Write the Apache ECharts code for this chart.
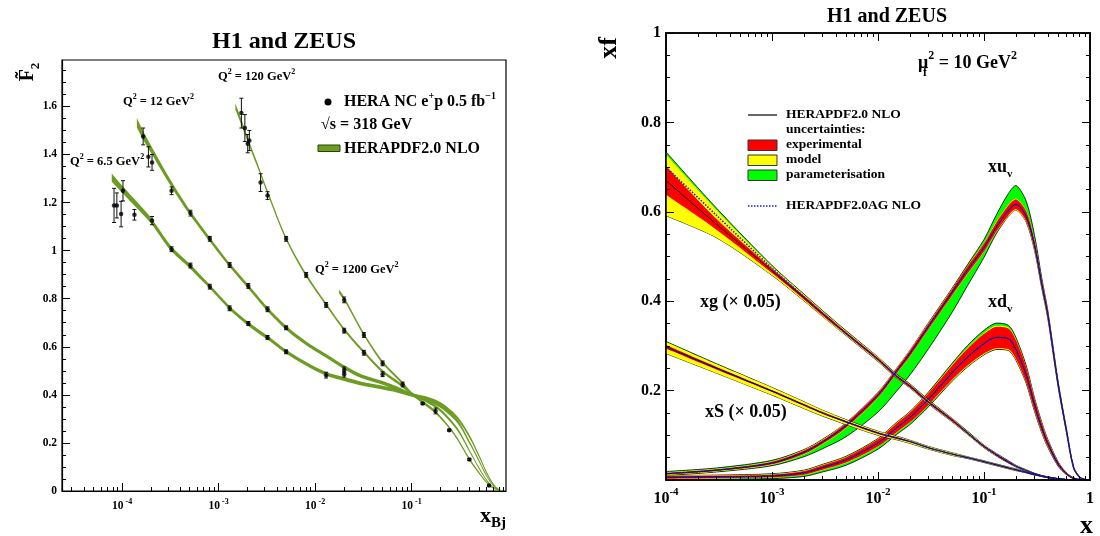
<!DOCTYPE html>
<html><head><meta charset="utf-8">
<script src="https://cdn.jsdelivr.net/npm/echarts@6/dist/echarts.min.js"></script>
<style>html,body{margin:0;padding:0;background:#fff}#c{width:1100px;height:536px}</style>
</head><body><div id="c"></div>
<script>
// ================= LEFT PANEL DATA (reduced cross section F2~ vs x_Bj) =================
// HERAPDF2.0 NLO prediction bands: x, central value, half width
const c65X  = [7.8e-5,1e-4,1.5e-4,2e-4,3.2e-4,5e-4,8e-4,1.3e-3,2e-3,3.2e-3,5e-3,8e-3,0.013,0.02,0.03,0.05,0.07,0.1,0.14,0.2,0.3,0.4,0.5,0.6,0.7,0.8,0.9];
const c65F  = [1.304,1.256,1.18,1.124,1.01,0.936,0.852,0.762,0.697,0.638,0.58,0.53,0.487,0.466,0.447,0.43,0.418,0.40,0.387,0.362,0.302,0.225,0.145,0.075,0.028,0.005,0.0];
const c65W  = [0.017,0.015,0.013,0.012,0.010,0.009,0.008,0.008,0.008,0.008,0.008,0.008,0.008,0.008,0.008,0.008,0.008,0.007,0.007,0.007,0.007,0.007,0.006,0.005,0.004,0.003,0.002];
const c12X  = [1.42e-4,1.6e-4,2e-4,3.2e-4,5e-4,8e-4,1.3e-3,2e-3,3.2e-3,5e-3,8e-3,0.013,0.02,0.03,0.05,0.07,0.1,0.14,0.2,0.3,0.4,0.5,0.6,0.7,0.8,0.9];
const c12F  = [1.532,1.49,1.42,1.28,1.16,1.049,0.94,0.853,0.757,0.679,0.615,0.562,0.515,0.478,0.45,0.428,0.40,0.382,0.352,0.288,0.2,0.125,0.062,0.023,0.004,0.0];
const c12W  = [0.020,0.018,0.015,0.012,0.010,0.009,0.008,0.008,0.008,0.008,0.008,0.008,0.008,0.008,0.008,0.008,0.007,0.007,0.007,0.007,0.006,0.005,0.004,0.003,0.002,0.002];
const c120X = [1.49e-3,1.7e-3,2e-3,2.5e-3,3.2e-3,5e-3,8e-3,0.013,0.02,0.032,0.05,0.08,0.1,0.14,0.2,0.3,0.4,0.5,0.6,0.7,0.8,0.9];
const c120F = [1.60,1.54,1.462,1.36,1.245,1.05,0.90,0.776,0.672,0.578,0.497,0.438,0.405,0.376,0.335,0.255,0.165,0.095,0.045,0.016,0.003,0.0];
const c120W = [0.013,0.012,0.010,0.009,0.008,0.007,0.007,0.006,0.006,0.006,0.006,0.006,0.006,0.006,0.006,0.006,0.005,0.004,0.003,0.002,0.002,0.002];
const c1200X = [0.0177,0.02,0.032,0.05,0.08,0.1,0.13,0.18,0.25,0.3,0.4,0.5,0.6,0.65,0.7,0.8,0.9];
const c1200F = [0.83,0.80,0.652,0.535,0.45,0.405,0.37,0.325,0.26,0.215,0.13,0.075,0.035,0.022,0.012,0.002,0.0];
const c1200W = [0.008,0.007,0.006,0.006,0.006,0.006,0.006,0.006,0.005,0.005,0.005,0.004,0.003,0.003,0.002,0.002,0.002];
// HERA NC e+p data points: x, value, error
const d65X = [8.24e-5,8.81e-5,9.75e-5,1.02e-4,1.34e-4,2.04e-4,3.25e-4,5.1e-4,8.1e-4,1.3e-3,2.03e-3,3.21e-3,5.0e-3,0.013,0.02];
const d65F = [1.188,1.188,1.152,1.249,1.149,1.125,1.006,0.938,0.850,0.760,0.697,0.639,0.579,0.482,0.486];
const d65E = [0.071,0.052,0.053,0.042,0.022,0.017,0.010,0.010,0.010,0.010,0.008,0.008,0.008,0.012,0.012];
const d12X = [1.65e-4,1.87e-4,2.04e-4,3.25e-4,5.1e-4,8.1e-4,1.3e-3,2.03e-3,3.21e-3,5.0e-3,0.02];
const d12F = [1.475,1.39,1.367,1.249,1.156,1.049,0.940,0.853,0.756,0.679,0.504];
const d12E = [0.035,0.042,0.033,0.016,0.012,0.010,0.010,0.010,0.010,0.008,0.012];
const d120X = [1.72e-3,1.87e-3,2.0e-3,2.08e-3,2.72e-3,3.21e-3,5.0e-3,8.07e-3,0.013,0.02,0.032,0.05];
const d120F = [1.572,1.510,1.445,1.458,1.283,1.229,1.049,0.899,0.774,0.667,0.575,0.486];
const d120E = [0.062,0.056,0.038,0.042,0.037,0.016,0.010,0.010,0.010,0.010,0.010,0.010];
const d1200X = [0.02,0.032,0.05,0.0807,0.13,0.177,0.245,0.396,0.634];
const d1200F = [0.795,0.649,0.531,0.443,0.364,0.333,0.253,0.131,0.0225];
const d1200E = [0.012,0.010,0.010,0.010,0.004,0.012,0.004,0.004,0.003];

// ================= RIGHT PANEL DATA (PDFs at mu_f^2 = 10 GeV^2) =================
const xGrid = [1e-4,3e-4,1e-3,2e-3,3e-3,5e-3,0.01,0.015,0.02,0.03,0.05,0.07,0.1,0.13,0.17,0.2,0.25,0.3,0.35,0.4,0.5,0.6,0.7,0.8,0.9,1.0];
// xu_v
const xuv      = [0.014,0.022,0.038,0.062,0.085,0.122,0.19,0.244,0.283,0.344,0.42,0.47,0.52,0.565,0.603,0.617,0.59,0.525,0.44,0.37,0.215,0.11,0.028,0.006,0.001,0];
const xuvExp   = [0.002,0.002,0.003,0.004,0.004,0.005,0.005,0.005,0.006,0.006,0.007,0.008,0.009,0.010,0.011,0.011,0.011,0.010,0.009,0.008,0.006,0.004,0.002,0.001,0,0];
const xuvModUp = [0.003,0.003,0.004,0.005,0.005,0.006,0.006,0.006,0.007,0.007,0.008,0.009,0.010,0.012,0.013,0.013,0.013,0.012,0.010,0.009,0.006,0.004,0.002,0.001,0,0];
const xuvModDn = [0.003,0.003,0.004,0.005,0.005,0.006,0.006,0.006,0.007,0.007,0.008,0.009,0.010,0.012,0.013,0.013,0.013,0.012,0.010,0.009,0.006,0.004,0.002,0.001,0,0];
const xuvTotUp = [0.005,0.005,0.006,0.006,0.006,0.006,0.006,0.006,0.007,0.008,0.009,0.012,0.018,0.027,0.038,0.042,0.034,0.022,0.013,0.009,0.006,0.004,0.002,0.001,0,0];
const xuvTotDn = [0.004,0.004,0.006,0.010,0.015,0.025,0.038,0.045,0.048,0.050,0.045,0.035,0.022,0.015,0.013,0.013,0.013,0.012,0.010,0.009,0.006,0.004,0.002,0.001,0,0];
// xd_v
const xdv      = [0.006,0.007,0.009,0.016,0.028,0.045,0.083,0.117,0.14,0.181,0.24,0.275,0.305,0.319,0.316,0.292,0.235,0.168,0.118,0.082,0.036,0.014,0.004,0.001,0,0];
const xdvExp   = [0.003,0.003,0.003,0.004,0.005,0.006,0.008,0.010,0.011,0.013,0.016,0.019,0.022,0.024,0.023,0.021,0.017,0.013,0.010,0.007,0.004,0.002,0.001,0,0,0];
const xdvModUp = [0.004,0.004,0.004,0.005,0.006,0.007,0.009,0.011,0.012,0.014,0.018,0.021,0.024,0.026,0.025,0.023,0.018,0.014,0.011,0.008,0.004,0.002,0.001,0,0,0];
const xdvModDn = [0.004,0.004,0.004,0.005,0.006,0.007,0.009,0.011,0.012,0.014,0.018,0.021,0.024,0.026,0.025,0.023,0.018,0.014,0.011,0.008,0.004,0.002,0.001,0,0,0];
const xdvTotUp = [0.004,0.004,0.005,0.006,0.007,0.008,0.010,0.012,0.013,0.016,0.021,0.026,0.030,0.032,0.030,0.027,0.021,0.015,0.012,0.009,0.005,0.002,0.001,0,0,0];
const xdvTotDn = [0.005,0.005,0.006,0.008,0.010,0.012,0.014,0.015,0.016,0.017,0.019,0.022,0.025,0.027,0.026,0.024,0.019,0.015,0.012,0.009,0.005,0.002,0.001,0,0,0];
// xg (x 0.05)
const xg      = [0.670,0.572,0.468,0.408,0.372,0.328,0.270,0.232,0.210,0.174,0.134,0.105,0.075,0.057,0.040,0.031,0.021,0.014,0.009,0.006,0.002,0.001,0,0,0,0];
const xgAG    = [0.700,0.592,0.474,0.410,0.373,0.328,0.270,0.232,0.210,0.174,0.134,0.105,0.075,0.057,0.040,0.031,0.021,0.014,0.009,0.006,0.002,0.001,0,0,0,0];
const xgExp   = [0.032,0.012,0.005,0.004,0.004,0.003,0.003,0.003,0.003,0.003,0.003,0.002,0.002,0.002,0.002,0.001,0.001,0.001,0.001,0.001,0,0,0,0,0,0];
const xgModUp = [0.058,0.032,0.010,0.007,0.006,0.005,0.005,0.004,0.004,0.004,0.004,0.003,0.003,0.003,0.002,0.002,0.002,0.001,0.001,0.001,0.001,0,0,0,0,0];
const xgModDn = [0.079,0.030,0.010,0.007,0.006,0.005,0.005,0.004,0.004,0.004,0.004,0.003,0.003,0.003,0.002,0.002,0.002,0.001,0.001,0.001,0.001,0,0,0,0,0];
const xgTotUp = [0.064,0.036,0.012,0.008,0.007,0.006,0.005,0.005,0.005,0.005,0.004,0.004,0.003,0.003,0.003,0.002,0.002,0.001,0.001,0.001,0.001,0,0,0,0,0];
const xgTotDn = [0.079,0.030,0.010,0.007,0.006,0.005,0.005,0.004,0.004,0.004,0.004,0.003,0.003,0.003,0.002,0.002,0.002,0.001,0.001,0.001,0.001,0,0,0,0,0];
// xS (x 0.05)
const xS      = [0.298,0.250,0.199,0.168,0.150,0.130,0.105,0.094,0.086,0.072,0.058,0.050,0.041,0.034,0.027,0.023,0.017,0.012,0.009,0.006,0.003,0.001,0,0,0,0];
const xSExp   = [0.004,0.003,0.002,0.002,0.002,0.002,0.002,0.002,0.001,0.001,0.001,0.001,0.001,0.001,0.001,0.001,0.001,0.001,0,0,0,0,0,0,0,0];
const xSModUp = [0.011,0.009,0.008,0.007,0.006,0.005,0.004,0.004,0.003,0.003,0.003,0.002,0.002,0.002,0.002,0.002,0.001,0.001,0.001,0.001,0,0,0,0,0,0];
const xSModDn = [0.015,0.011,0.009,0.008,0.007,0.006,0.005,0.004,0.004,0.003,0.003,0.002,0.002,0.002,0.002,0.002,0.001,0.001,0.001,0.001,0,0,0,0,0,0];
const xSTotUp = [0.012,0.010,0.008,0.007,0.006,0.005,0.004,0.004,0.003,0.003,0.003,0.002,0.002,0.002,0.002,0.002,0.001,0.001,0.001,0.001,0,0,0,0,0,0];
const xSTotDn = [0.015,0.011,0.009,0.008,0.007,0.006,0.005,0.004,0.004,0.003,0.003,0.002,0.002,0.002,0.002,0.002,0.001,0.001,0.001,0.001,0,0,0,0,0,0];

// ================= tick values =================
const lxMajor = [1e-4,1e-3,1e-2,1e-1];
const rxMajor = [1e-4,1e-3,1e-2,1e-1,1];
const decades = [1e-5,1e-4,1e-3,1e-2,1e-1];
const minorMult = [2,3,4,5,6,7,8,9];
const lyMajor = [0,0.2,0.4,0.6,0.8,1.0,1.2,1.4,1.6];
const ryMajor = [0,0.2,0.4,0.6,0.8,1.0];
const ryLabels = [0.2,0.4,0.6,0.8,1.0];

// ================= building =================
const FONT = '"Liberation Serif","Times New Roman",serif';
const L_XMIN = 2.38e-5, L_XMAX = 0.95, L_YMAX = 1.793;
const GREEN_L = '#6c9c22';
const SM = 0.3;

function minorsIn(lo, hi) {
  const out = [];
  decades.forEach(d => minorMult.forEach(m => { const v = m * d; if (v > lo && v < hi) out.push(v); }));
  return out;
}
function yMinors(maxv) { const out = []; for (let k = 1; k * 0.05 < maxv; k++) out.push(+(k * 0.05).toFixed(2)); return out; }

const rich = (base, sup) => ({
  b: {fontFamily: FONT, fontWeight: 'bold', fontSize: base, lineHeight: Math.round(base * 1.25), verticalAlign: 'bottom', color: '#000'},
  s: {fontFamily: FONT, fontWeight: 'bold', fontSize: sup, lineHeight: sup, verticalAlign: 'top', color: '#000'}
});

function xAx(grid, min, max, pos, ticks, len, labels, fmt, richSt, showLine, lw) {
  return {
    type: 'log', logBase: 10, gridIndex: grid, min, max, position: pos, z: 10,
    axisLine: {show: showLine, onZero: false, lineStyle: {color: '#000', width: lw}},
    axisTick: {show: true, inside: true, length: len, customValues: ticks, lineStyle: {color: '#000', width: 1}},
    axisLabel: labels ? {show: true, customValues: labels, formatter: fmt, rich: richSt, margin: 7,
                         showMinLabel: true, showMaxLabel: true, hideOverlap: false} : {show: false},
    splitLine: {show: false}, minorTick: {show: false}
  };
}
function yAx(grid, min, max, pos, ticks, len, labels, size, showLine, lw) {
  return {
    type: 'value', gridIndex: grid, min, max, position: pos, z: 10,
    axisLine: {show: showLine, onZero: false, lineStyle: {color: '#000', width: lw}},
    axisTick: {show: true, inside: true, length: len, customValues: ticks, lineStyle: {color: '#000', width: 1}},
    axisLabel: labels ? {show: true, customValues: labels, margin: 5,
                         formatter: v => String(Math.round(v * 10) / 10),
                         fontFamily: FONT, fontWeight: 'bold', fontSize: size, color: '#000'} : {show: false},
    splitLine: {show: false}, minorTick: {show: false}
  };
}
const lxFmt = v => '{b|10}{s| ' + Math.round(Math.log10(v)) + '}';
const rxFmt = v => { const e = Math.round(Math.log10(v)); return e === 0 ? '{b|1}' : '{b|10}{s|' + e + '}'; };

const xAxis = [
  xAx(0, L_XMIN, L_XMAX, 'bottom', lxMajor, 8, lxMajor, lxFmt, rich(11.5, 8), true, 1.2),
  xAx(0, L_XMIN, L_XMAX, 'bottom', minorsIn(L_XMIN, L_XMAX), 4, null, null, null, false, 1),
  xAx(1, 1e-4, 1, 'bottom', rxMajor, 8, rxMajor, rxFmt, rich(16, 11), true, 1.6),
  xAx(1, 1e-4, 1, 'bottom', minorsIn(1e-4, 1), 4, null, null, null, false, 1),
  xAx(1, 1e-4, 1, 'top', rxMajor, 8, null, null, null, true, 1.6),
  xAx(1, 1e-4, 1, 'top', minorsIn(1e-4, 1), 4, null, null, null, false, 1)
];
const yAxis = [
  yAx(0, 0, L_YMAX, 'left', lyMajor, 8, lyMajor, 11.5, true, 1.2),
  yAx(0, 0, L_YMAX, 'left', yMinors(L_YMAX), 4, null, 0, false, 1),
  yAx(1, 0, 1, 'left', ryMajor, 8, ryLabels, 16, true, 1.6),
  yAx(1, 0, 1, 'left', yMinors(1), 4, null, 0, false, 1),
  yAx(1, 0, 1, 'right', ryMajor, 8, null, 0, true, 1.6),
  yAx(1, 0, 1, 'right', yMinors(1), 4, null, 0, false, 1)
];

// smooth path through screen points, same control-point rule as the line series smoothing
function smoothSeg(P, first) {
  const n = P.length; let d = first ? 'M' + P[0][0] + ' ' + P[0][1] : 'L' + P[0][0] + ' ' + P[0][1];
  let cp0 = P[0];
  for (let i = 1; i < n; i++) {
    const p = P[i], prev = P[i - 1];
    let cp1, nextCp;
    if (i === n - 1) { cp1 = p; nextCp = p; }
    else {
      const nx = P[i + 1];
      const vx = nx[0] - prev[0], vy = nx[1] - prev[1];
      const l0 = Math.hypot(p[0] - prev[0], p[1] - prev[1]), l1 = Math.hypot(nx[0] - p[0], nx[1] - p[1]);
      const r = (l0 + l1) > 0 ? l1 / (l0 + l1) : 0.5;
      cp1 = [p[0] - vx * SM * (1 - r), p[1] - vy * SM * (1 - r)];
      nextCp = [p[0] + vx * SM * r, p[1] + vy * SM * r];
      const cl = (v, a, b) => Math.min(Math.max(v, Math.min(a, b)), Math.max(a, b));
      cp1 = [cl(cp1[0], prev[0], p[0]), cl(cp1[1], prev[1], p[1])];
      nextCp = [cl(nextCp[0], p[0], nx[0]), cl(nextCp[1], p[1], nx[1])];
    }
    d += 'C' + cp0[0] + ' ' + cp0[1] + ' ' + cp1[0] + ' ' + cp1[1] + ' ' + p[0] + ' ' + p[1];
    cp0 = nextCp;
  }
  return d;
}
function band(X, lo, hi, color, xi, yi, outline) {
  return {
    type: 'custom', xAxisIndex: xi, yAxisIndex: yi, clip: true, silent: true, z: 2,
    data: X.map((x, i) => [x, lo[i], hi[i]]), encode: {x: 0, y: [1, 2]},
    renderItem: (params, api) => {
      if (params.dataIndex !== 0) return null;
      const up = X.map((x, i) => api.coord([x, hi[i]]));
      const dn = X.map((x, i) => api.coord([x, lo[i]])).reverse();
      const children = [{type: 'path', shape: {pathData: smoothSeg(up, true) + smoothSeg(dn, false) + 'Z'},
        style: {fill: color, stroke: null}}];
      if (outline) {
        children.push({type: 'path', shape: {pathData: smoothSeg(up, true)}, style: {fill: null, stroke: '#000', lineWidth: 0.8}});
        children.push({type: 'path', shape: {pathData: smoothSeg(dn, true)}, style: {fill: null, stroke: '#000', lineWidth: 0.8}});
      }
      return {type: 'group', children};
    }
  };
}
function curve(X, Y, color, width, type, xi, yi) {
  return {type: 'line', xAxisIndex: xi, yAxisIndex: yi, data: X.map((x, i) => [x, Y[i]]), symbol: 'none',
    smooth: SM, silent: true, z: 2, animation: false, lineStyle: {color, width, type}};
}

const series = [];
// ---- left bands
[[c65X, c65F, c65W], [c12X, c12F, c12W], [c120X, c120F, c120W], [c1200X, c1200F, c1200W]].forEach(([X, F, W]) => {
  series.push(band(X, F.map((f, i) => f - W[i]), F.map((f, i) => f + W[i]), GREEN_L, 0, 0, false));
});
// ---- left data points with error bars
const pts = [];
[[d65X, d65F, d65E], [d12X, d12F, d12E], [d120X, d120F, d120E], [d1200X, d1200F, d1200E]].forEach(([X, F, E]) => {
  X.forEach((x, i) => pts.push([x, F[i], E[i]]));
});
series.push({
  type: 'custom', xAxisIndex: 0, yAxisIndex: 0, data: pts, encode: {x: 0, y: 1}, z: 5, silent: true,
  renderItem: (params, api) => {
    const x = api.value(0), y = api.value(1), e = api.value(2);
    const t = api.coord([x, y + e]), b = api.coord([x, y - e]);
    const st = {stroke: '#111', lineWidth: 1};
    return {type: 'group', children: [
      {type: 'line', shape: {x1: t[0], y1: t[1], x2: b[0], y2: b[1]}, style: st},
      {type: 'line', shape: {x1: t[0] - 2, y1: t[1], x2: t[0] + 2, y2: t[1]}, style: st},
      {type: 'line', shape: {x1: b[0] - 2, y1: b[1], x2: b[0] + 2, y2: b[1]}, style: st}
    ]};
  }
});
series.push({type: 'scatter', xAxisIndex: 0, yAxisIndex: 0, data: pts.map(p => [p[0], p[1]]),
  symbol: 'circle', symbolSize: 4.5, itemStyle: {color: '#000'}, z: 6, silent: true});

// ---- right PDFs
const pdfs = [
  {c: xuv, e: xuvExp, mu: xuvModUp, md: xuvModDn, tu: xuvTotUp, td: xuvTotDn, ag: xuv},
  {c: xdv, e: xdvExp, mu: xdvModUp, md: xdvModDn, tu: xdvTotUp, td: xdvTotDn, ag: xdv},
  {c: xg,  e: xgExp,  mu: xgModUp,  md: xgModDn,  tu: xgTotUp,  td: xgTotDn,  ag: xgAG},
  {c: xS,  e: xSExp,  mu: xSModUp,  md: xSModDn,  tu: xSTotUp,  td: xSTotDn,  ag: xS}
];
pdfs.forEach(p => {
  const off = (b, s) => p.c.map((v, i) => v + s * b[i]);
  series.push(band(xGrid, off(p.td, -1), off(p.tu, 1), '#00ff00', 2, 2, true));
  series.push(band(xGrid, off(p.md, -1), off(p.mu, 1), '#ffff00', 2, 2, false));
  series.push(band(xGrid, off(p.e, -1), off(p.e, 1), '#ff0000', 2, 2, false));
  series.push(curve(xGrid, p.c, '#000', 1, 'solid', 2, 2));
  series.push(curve(xGrid, p.ag, '#1a1aff', 1.6, [1.5, 1.5], 2, 2));
});

// ---- text / legend decorations
function T(x, y, text, size, o) {
  o = o || {};
  const al = o.align || 'left';
  return {type: 'text', x, y, rotation: o.rot || 0, z: 100, silent: true,
    style: {text, fill: '#000', fontFamily: FONT, fontWeight: 'bold', fontSize: size,
      lineHeight: o.lh || Math.round(size * 1.25),
      align: al, textAlign: al, verticalAlign: 'middle', textVerticalAlign: 'middle',
      rich: o.rich}};
}
const supR = (base, sup) => ({
  s: {fontFamily: FONT, fontWeight: 'bold', fontSize: sup, lineHeight: sup, verticalAlign: 'top', fill: '#000'},
  u: {fontFamily: FONT, fontWeight: 'bold', fontSize: sup, lineHeight: sup, verticalAlign: 'bottom', fill: '#000'}
});
const graphics = [
  // left panel
  T(284, 42, 'H1 and ZEUS', 24, {align: 'center'}),
  T(28, 72, 'F\u0303{u|2}', 20, {align: 'center', rot: Math.PI / 2, lh: 28, rich: supR(20, 13)}),
  T(506, 516, 'x{u|Bj}', 22, {align: 'right', lh: 30, rich: supR(22, 15)}),
  T(70, 162, 'Q{s|2} = 6.5 GeV{s|2}', 12.5, {lh: 18, rich: supR(12.5, 8)}),
  T(123, 102, 'Q{s|2} = 12 GeV{s|2}', 12.5, {lh: 18, rich: supR(12.5, 8)}),
  T(218, 77, 'Q{s|2} = 120 GeV{s|2}', 12.5, {lh: 18, rich: supR(12.5, 8)}),
  T(315, 270, 'Q{s|2} = 1200 GeV{s|2}', 12.5, {lh: 18, rich: supR(12.5, 8)}),
  {type: 'circle', shape: {cx: 328, cy: 102, r: 3.5}, style: {fill: '#000'}, z: 100},
  T(344, 102, 'HERA NC e{s|+}p 0.5 fb{s|\u22121}', 16, {lh: 22, rich: supR(16, 10)}),
  T(321, 124.5, '\u221As = 318 GeV', 16),
  {type: 'rect', shape: {x: 318, y: 145, width: 22, height: 6.5}, style: {fill: GREEN_L, stroke: '#2a4208', lineWidth: 1}, z: 100},
  T(344, 148.5, 'HERAPDF2.0 NLO', 16),
  // right panel
  T(887, 17, 'H1 and ZEUS', 20, {align: 'center'}),
  T(609, 48, 'xf', 26, {align: 'center', rot: Math.PI / 2}),
  T(1093, 526, 'x', 26, {align: 'right'}),
  T(918, 63, '\u03BC{s|2} = 10 GeV{s|2}', 18, {lh: 26, rich: supR(18, 12)}),
  T(923, 73, 'f', 12),
  {type: 'line', shape: {x1: 748, y1: 115, x2: 777, y2: 115}, style: {stroke: '#000', lineWidth: 1.2}, z: 100},
  T(786, 115, 'HERAPDF2.0 NLO', 13.5),
  T(786, 129.5, 'uncertainties:', 13.5),
  {type: 'rect', shape: {x: 748, y: 140, width: 29, height: 10.5}, style: {fill: '#ff0000', stroke: '#333', lineWidth: 1}, z: 100},
  T(786, 145, 'experimental', 13.5),
  {type: 'rect', shape: {x: 748, y: 155, width: 29, height: 10.5}, style: {fill: '#ffff00', stroke: '#333', lineWidth: 1}, z: 100},
  T(786, 160, 'model', 13.5),
  {type: 'rect', shape: {x: 748, y: 170, width: 29, height: 10.5}, style: {fill: '#00ff00', stroke: '#333', lineWidth: 1}, z: 100},
  T(786, 175, 'parameterisation', 13.5),
  {type: 'line', shape: {x1: 748, y1: 206, x2: 777, y2: 206}, style: {stroke: '#1a1aff', lineWidth: 1.6, lineDash: [1.5, 1.5]}, z: 100},
  T(786, 206, 'HERAPDF2.0AG NLO', 13.5),
  T(988, 167, 'xu{u|v}', 18, {lh: 26, rich: supR(18, 11)}),
  T(988, 302, 'xd{u|v}', 18, {lh: 26, rich: supR(18, 11)}),
  T(700, 302, 'xg (\u00D7 0.05)', 18),
  T(705, 412, 'xS (\u00D7 0.05)', 18)
];

const option = {
  animation: false,
  backgroundColor: '#fff',
  grid: [
    {left: 62, top: 60, width: 444, height: 431, show: true, borderColor: '#000', borderWidth: 1.2, backgroundColor: 'transparent'},
    {left: 666, top: 33, width: 424, height: 447, show: true, borderColor: '#000', borderWidth: 1.6, backgroundColor: 'transparent'}
  ],
  xAxis, yAxis, series,
  graphic: {elements: graphics}
};
const chart = echarts.init(document.getElementById('c'), null, {renderer: 'canvas'});
chart.setOption(option);
</script>
</body></html>
